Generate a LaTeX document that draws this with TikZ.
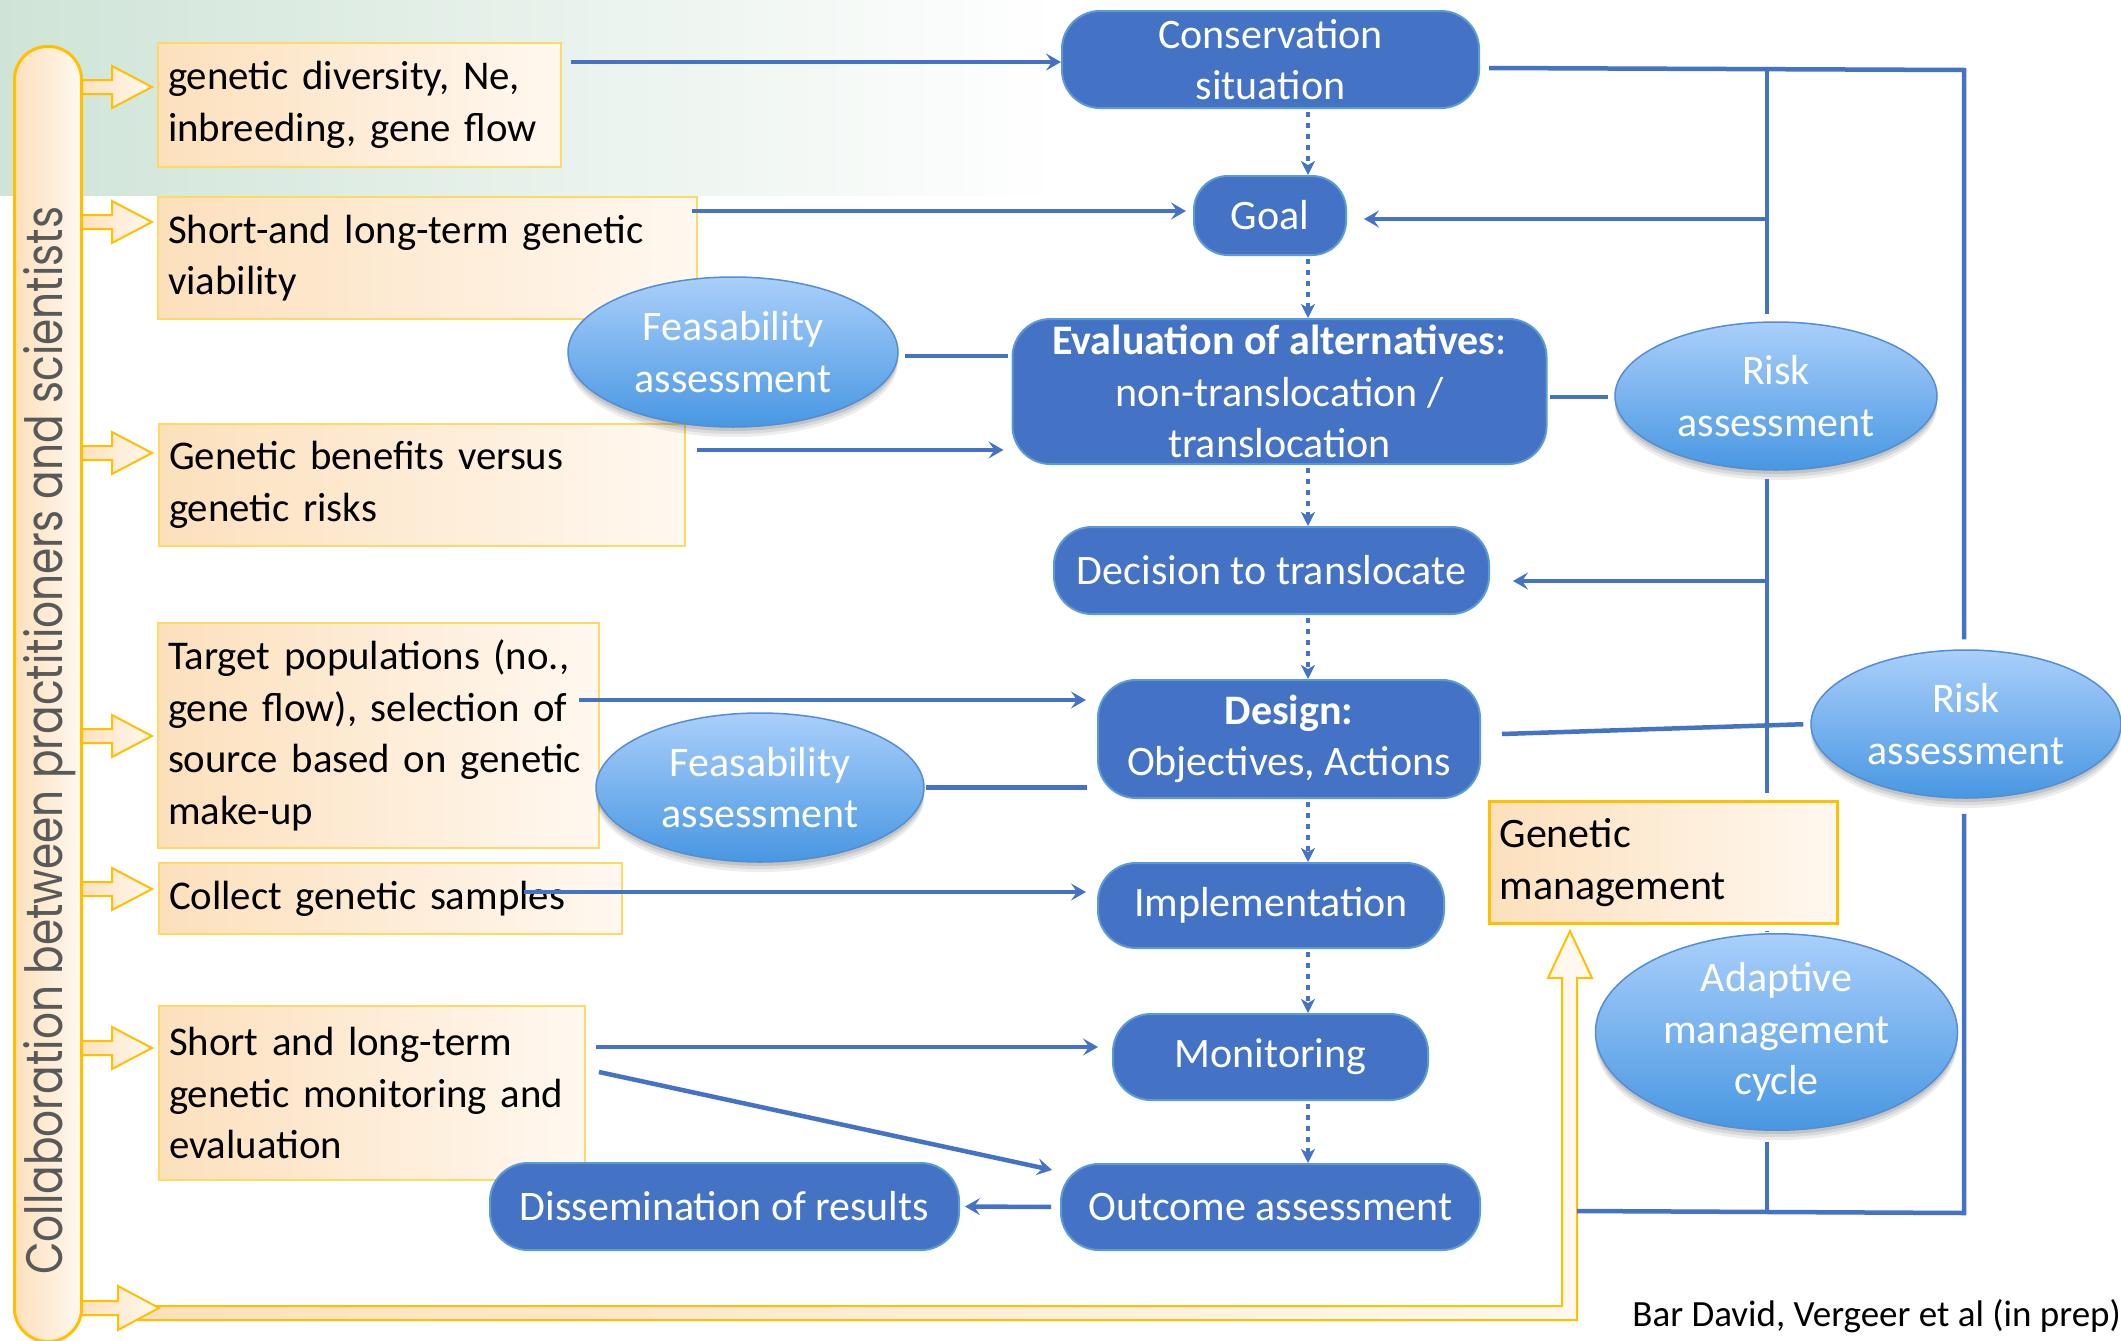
\documentclass[tikz,border=0pt]{standalone}
\usepackage{graphicx}
\usepackage{fontspec}
\setmainfont{Carlito}
\newfontfamily\collabfont{Poppins}
\usetikzlibrary{shapes.geometric,arrows.meta,shadows}

\definecolor{nodeblue}{RGB}{68,114,196}
\definecolor{nodeedge}{RGB}{91,155,213}
\definecolor{linkblue}{RGB}{68,114,196}
\definecolor{gold}{RGB}{255,192,0}
\definecolor{paleGold}{RGB}{255,217,102}
\definecolor{peach}{RGB}{252,224,188}
\definecolor{cream}{RGB}{255,248,240}
\definecolor{elltop}{RGB}{170,207,250}
\definecolor{ellbot}{RGB}{72,151,226}
\definecolor{elledge}{RGB}{84,141,212}
\definecolor{bggreen}{RGB}{207,228,215}
\definecolor{collabgray}{RGB}{89,89,89}

\tikzset{
  every node/.style={font=\fontsize{42}{51.5}\selectfont},
  blueproc/.style={draw=nodeedge, line width=2pt, fill=nodeblue, rounded corners=38pt,
    text=white, align=center, inner sep=0pt},
  infobox/.style={draw=paleGold, line width=2pt, left color=peach, right color=cream,
    anchor=north west, align=left, inner xsep=10pt, inner ysep=0pt,
    font=\fontsize{40.8}{51.5}\selectfont},
  assess/.style={ellipse, draw=elledge, line width=1.5pt, top color=elltop, bottom color=ellbot,
    text=white, align=center, inner sep=0pt,
    general shadow={fill=black, opacity=0.07, shadow xshift=0pt, shadow yshift=-10pt},
    general shadow={fill=black, opacity=0.08, shadow xshift=0pt, shadow yshift=-7pt},
    general shadow={fill=black, opacity=0.10, shadow xshift=0pt, shadow yshift=-4pt}},
  conn/.style={draw=linkblue, line width=4.5pt},
  arr/.style={conn, -{Stealth[length=15pt,width=17pt,inset=6pt]}},
  dotarr/.style={draw=linkblue, line width=4pt, dash pattern=on 5pt off 6pt,
    -{Stealth[length=14pt,width=14pt,inset=4pt]}},
  blockarr/.style={draw=gold, line width=2pt, left color=peach, right color=cream},
}

\newcommand\sidearrow[1]{%
  \draw[blockarr] (78,#1-7) -- (112,#1-7) -- (112,#1-21) -- (152,#1) -- (112,#1+21)
    -- (112,#1+7) -- (78,#1+7) -- cycle;}

\begin{document}
\begin{tikzpicture}[x=1pt, y=-1pt]
\useasboundingbox (0,0) rectangle (2121,1341);
\fill[white] (0,0) rectangle (2121,1341);
\fill[left color=bggreen, right color=white] (0,0) rectangle (1062,195);

% ---- left info boxes
\node[infobox, minimum width=403pt, minimum height=124pt, text width=383pt] (b1) at (157,42)
  {genetic diversity, Ne,\\inbreeding, gene flow};
\node[infobox, minimum width=539pt, minimum height=122pt, text width=519pt] (b2) at (157,196)
  {\mbox{Short-and long-term genetic}\\viability};
\node[infobox, minimum width=526pt, minimum height=122pt, text width=506pt] (b3) at (158,423)
  {Genetic benefits versus\\genetic risks};
\node[infobox, minimum width=441pt, minimum height=225pt, text width=421pt] (b4) at (157,622)
  {\mbox{Target populations (no.,}\\\mbox{gene flow), selection of}\\\mbox{source based on genetic}\\make-up};
\node[infobox, minimum width=463pt, minimum height=71pt, text width=443pt] (b5) at (158,862)
  {Collect genetic samples};
\node[infobox, minimum width=426pt, minimum height=174pt, text width=406pt] (b6) at (158,1005)
  {Short and long-term\\\mbox{genetic monitoring and}\\evaluation};

% ---- block arrows from the collaboration bar
\sidearrow{87}
\sidearrow{222}
\sidearrow{453}
\sidearrow{736}
\sidearrow{889}
\sidearrow{1048}
\draw[blockarr] (135,1306) -- (1562,1306) -- (1562,978) -- (1548,978) -- (1570,931)
  -- (1592,978) -- (1577,978) -- (1577,1320) -- (135,1320) -- cycle;
\draw[blockarr] (78,1301) -- (118,1301) -- (118,1286) -- (159,1308) -- (118,1330)
  -- (118,1315) -- (78,1315) -- cycle;

% ---- collaboration bar
\node[draw=gold, line width=3pt, left color=peach, right color=cream, rounded corners=33pt,
  minimum width=67pt, minimum height=1295pt, anchor=north west, inner sep=0pt] (bar) at (13,45) {};
\node[rotate=90, anchor=base west, inner sep=0pt, text=collabgray] (collab) at (62,1275)
  {\resizebox{1068pt}{39pt}{\collabfont Collaboration between practitioners and scientists}};

% ---- process nodes
\node[blueproc, minimum width=417pt, minimum height=97pt] (cons) at (1270.5,59.5) {Conservation\\situation};
\node[blueproc, minimum width=152pt, minimum height=79pt, rounded corners=34pt] (goal) at (1270,215.5) {Goal};
\node[blueproc, minimum width=534pt, minimum height=145pt] (eval) at (1279.5,391.5)
  {\textbf{Evaluation of alternatives}:\\non-translocation /\\translocation};
\node[blueproc, minimum width=435pt, minimum height=87pt] (dec) at (1271.5,570.5) {Decision to translocate};
\node[blueproc, minimum width=382pt, minimum height=118pt] (des) at (1289,739) {\textbf{Design:}\\Objectives, Actions};
\node[blueproc, minimum width=346pt, minimum height=85pt] (impl) at (1271,905.5) {Implementation};
\node[blueproc, minimum width=315pt, minimum height=86pt] (mon) at (1270.5,1057) {Monitoring};
\node[blueproc, minimum width=419pt, minimum height=86pt] (outc) at (1270.5,1207) {Outcome assessment};
\node[blueproc, minimum width=469pt, minimum height=87pt] (diss) at (724.5,1206.5) {Dissemination of results};

% ---- assessment ellipses
\node[assess, minimum width=330pt, minimum height=150pt] (feas1) at (733,352) {Feasability\\assessment};
\node[assess, minimum width=328pt, minimum height=149pt] (feas2) at (760,787.5) {Feasability\\assessment};
\node[assess, minimum width=322pt, minimum height=148pt] (risk1) at (1776,396) {Risk\\assessment};
\node[assess, minimum width=310pt, minimum height=148pt] (risk2) at (1966,724) {Risk\\assessment};
\node[assess, minimum width=362pt, minimum height=149pt] (adapt) at (1776.5,1032) {Adaptive\\management\\cycle};

% ---- genetic management
\node[draw=gold, line width=3pt, left color=peach, right color=cream, anchor=north west,
  minimum width=348pt, minimum height=122pt, text width=328pt, inner xsep=10pt, inner ysep=0pt,
  align=left] (gm) at (1488,800) {Genetic\\management};

% ---- citation
\node[anchor=east, inner sep=0pt, font=\fontsize{37}{44}\selectfont] (cite) at (2121,1316)
  {Bar David, Vergeer et al (in prep)};

% ---- dotted flow arrows
\coordinate (dx) at (1308,0);
\draw[dotarr, shorten <=3pt] (cons.south -| dx) -- (goal.north -| dx);
\draw[dotarr, shorten <=3pt] (goal.south -| dx) -- (eval.north -| dx);
\draw[dotarr, shorten <=3pt] (eval.south -| dx) -- (dec.north -| dx);
\draw[dotarr, shorten <=3pt] (dec.south -| dx) -- (des.north -| dx);
\draw[dotarr, shorten <=3pt] (des.south -| dx) -- (impl.north -| dx);
\draw[dotarr, shorten <=3pt] (impl.south -| dx) -- (mon.north -| dx);
\draw[dotarr, shorten <=3pt] (mon.south -| dx) -- (outc.north -| dx);

% ---- arrows from info boxes
\coordinate (s1) at (571,62);
\coordinate (s2) at (692,211);
\coordinate (s3) at (697,450);
\coordinate (s4) at (579,700);
\coordinate (s5) at (524,892);
\coordinate (s6) at (596,1047);
\coordinate (s7) at (599,1072);
\coordinate (e7) at (1052,1170);
\draw[arr] (s1) -- (s1 -| cons.west);
\draw[arr, shorten >=7pt] (s2) -- (s2 -| goal.west);
\draw[arr, shorten >=8pt] (s3) -- (s3 -| eval.west);
\draw[arr, shorten >=11pt] (s4) -- (s4 -| des.west);
\draw[arr, shorten >=11pt] (s5) -- (s5 -| impl.west);
\draw[arr, shorten >=14pt] (s6) -- (s6 -| mon.west);
\draw[arr] (s7) -- (e7);
\draw[arr, shorten <=9pt, shorten >=5pt] (outc.west) -- (diss.east);

% ---- assessment links
\coordinate (f1) at (905,356);
\draw[conn, shorten >=4pt] (f1) -- (f1 -| eval.west);
\draw[conn, shorten <=1pt, shorten >=10pt] (feas2.east) -- (feas2.east -| des.west);
\coordinate (r1) at (1550,397);
\draw[conn, shorten >=6pt] (r1) -- (r1 -| risk1.west);
\coordinate (d1) at (1502,734);
\draw[conn, shorten >=7pt] (d1) -- (risk2.west);

% ---- right-hand frame
\coordinate (tl) at (1489,68);
\coordinate (tr) at (1964,70);
\coordinate (v1) at (1767,69);
\coordinate (bl) at (1577,1211);
\coordinate (br) at (1964,1213);
\draw[conn, line join=miter, shorten >=10pt] (tl) -- (tr) -- (tr |- risk2.north);
\draw[conn, line join=miter, shorten <=15pt] (tr |- risk2.south) -- (br) -- (bl);
\draw[conn, shorten >=7pt] (v1) -- (v1 |- risk1.north);
\draw[conn, shorten <=8pt, shorten >=7pt] (v1 |- risk1.south) -- (v1 |- gm.north);
\draw[conn, shorten <=6pt, shorten >=1pt] (v1 |- gm.south) -- (v1 |- adapt.north);
\draw[conn, shorten <=11pt] (v1 |- adapt.south) -- (v1 |- br);
\coordinate (g0) at (1767,219);
\draw[arr, shorten >=17pt] (g0) -- (g0 -| goal.east);
\coordinate (q0) at (1767,581);
\draw[arr, shorten >=23pt] (q0) -- (q0 -| dec.east);
\end{tikzpicture}
\end{document}
